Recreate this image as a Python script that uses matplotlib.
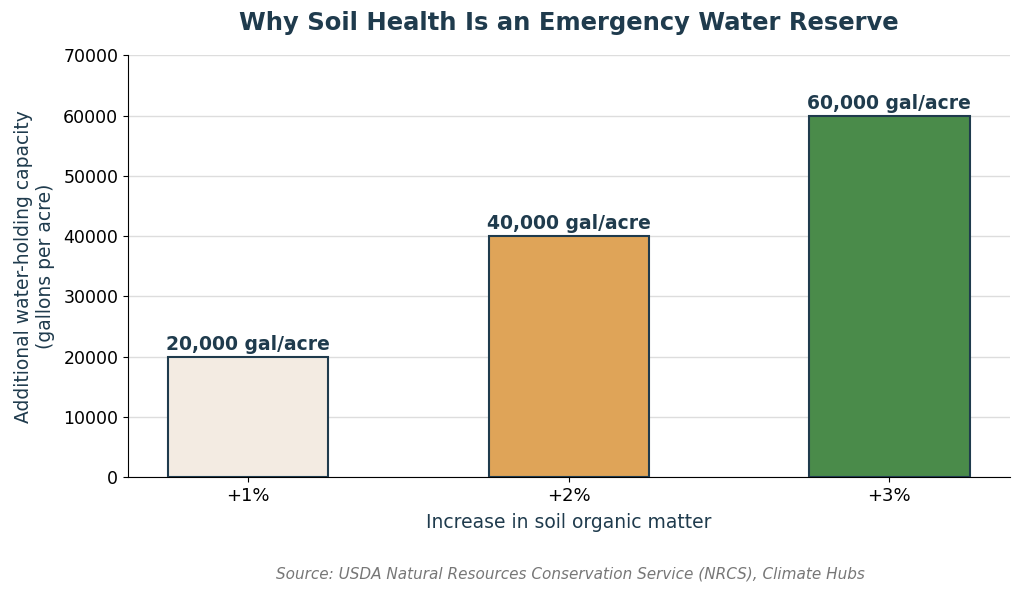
import matplotlib
matplotlib.use("Agg")
import matplotlib.pyplot as plt

plt.rcParams['font.family'] = ['DejaVu Sans']

categories = ["+1%", "+2%", "+3%"]
values = [20000, 40000, 60000]
labels = ["20,000 gal/acre", "40,000 gal/acre", "60,000 gal/acre"]
colors = ["#f3ebe2", "#dfa458", "#4a8b4a"]

dark = "#1f3b4d"

fig, ax = plt.subplots(figsize=(10.24, 5.95), dpi=100)
fig.subplots_adjust(left=0.125, right=0.986, top=0.907, bottom=0.198)

x = range(len(categories))
bars = ax.bar(x, values, width=0.5, color=colors, edgecolor=dark, linewidth=1.5, zorder=3)
for b, lab in zip(bars, labels):
    ax.text(b.get_x() + b.get_width() / 2, b.get_height() + 500, lab,
            ha="center", va="bottom", fontsize=13.5, fontweight="bold", color=dark)

ax.set_xticks(list(x))
ax.set_xticklabels(categories)
ax.tick_params(axis="x", labelsize=13)
ax.tick_params(axis="y", labelsize=12.5)
ax.set_ylim(0, 70000)
ax.yaxis.grid(True, color="#dddddd", linewidth=1, zorder=0)
ax.set_axisbelow(True)
for s in ["top", "right"]:
    ax.spines[s].set_visible(False)

ax.set_title("Why Soil Health Is an Emergency Water Reserve", fontsize=17.5,
             fontweight="bold", color=dark, pad=18)
ax.set_xlabel("Increase in soil organic matter", fontsize=13.5, color=dark, labelpad=6)
ax.set_ylabel("Additional water-holding capacity\n(gallons per acre)", fontsize=13.5,
              color=dark, labelpad=6)

fig.text(0.557, 0.028, "Source: USDA Natural Resources Conservation Service (NRCS), Climate Hubs",
         ha="center", fontsize=11, style="italic", color="#777777")

fig.savefig("out.png", dpi=100)
